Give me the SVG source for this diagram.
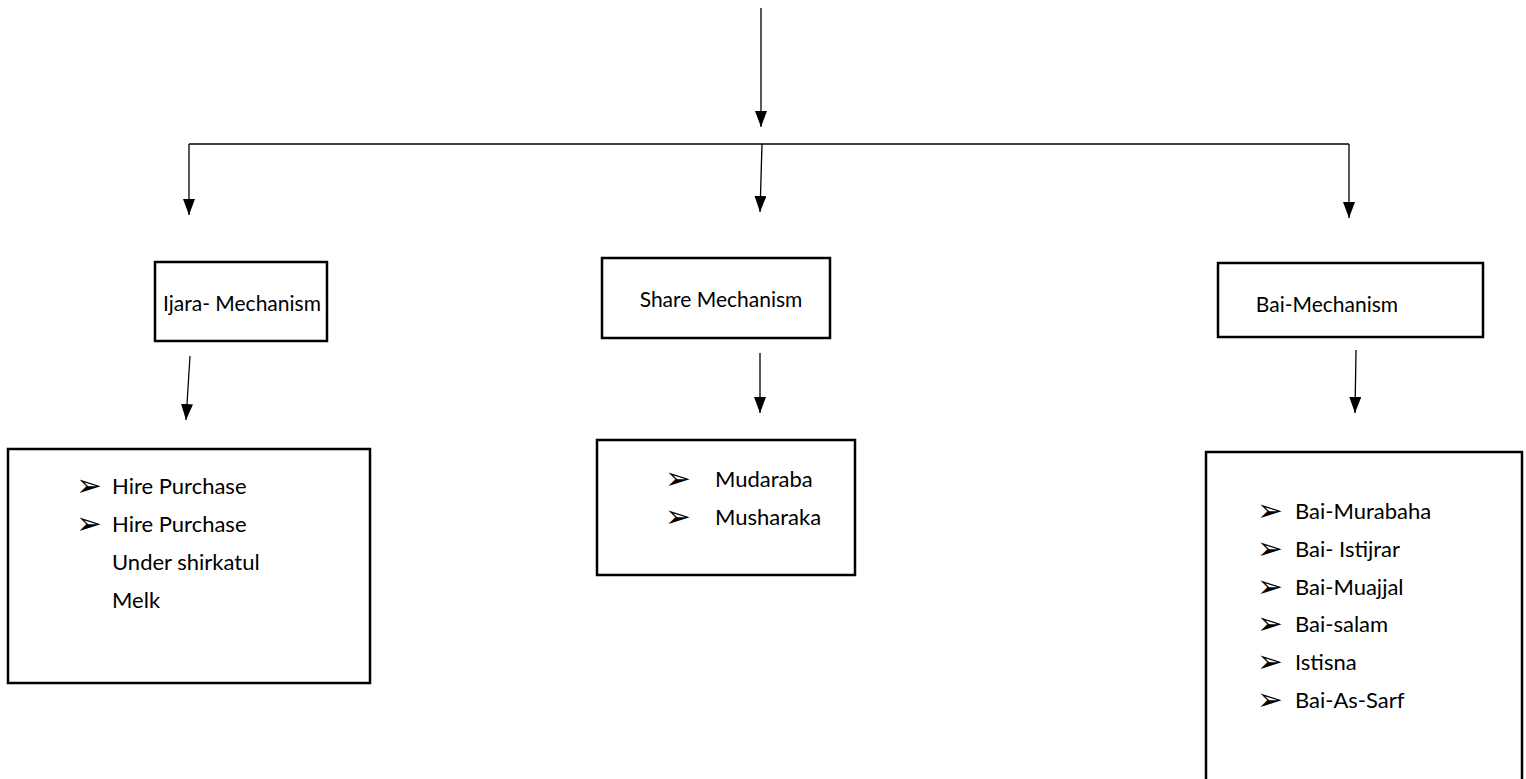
<svg xmlns="http://www.w3.org/2000/svg" width="1526" height="779" viewBox="0 0 1526 779">
<defs>
<marker id="ah" viewBox="0 0 16 12" refX="16" refY="6" markerWidth="16" markerHeight="12" markerUnits="userSpaceOnUse" orient="auto">
<path d="M0,0 L16,6 L0,12 z" fill="#000"/>
</marker>
<style>
.box{fill:#fff;stroke:#000;stroke-width:2.5}
.t{font-family:Lato,"Liberation Sans",sans-serif;font-size:21px;fill:#000}
.h{text-anchor:middle}
.l{font-size:22px}
.b{font-family:"DejaVu Sans",sans-serif;font-size:31px;fill:#000}
.c{fill:none;stroke:#000;stroke-width:1.3}
</style>
</defs>
<rect width="1526" height="779" fill="#fff"/>
<g id="connectors">
<path class="c" d="M761,8 L761,127" marker-end="url(#ah)"/>
<path class="c" d="M189,144 L1349,144"/>
<path class="c" d="M189,144 L189,215" marker-end="url(#ah)"/>
<path class="c" d="M762,144 L760,212" marker-end="url(#ah)"/>
<path class="c" d="M1349,144 L1349,218" marker-end="url(#ah)"/>
<path class="c" d="M190,356 L186,420" marker-end="url(#ah)"/>
<path class="c" d="M760,353 L760,413" marker-end="url(#ah)"/>
<path class="c" d="M1356,350 L1355,413" marker-end="url(#ah)"/>
</g>
<g id="ijara">
<rect class="box" x="155" y="262" width="172" height="79"/>
<text class="t h" x="242" y="311">Ijara- Mechanism</text>
</g>
<g id="share">
<rect class="box" x="602" y="258" width="228" height="80"/>
<text class="t h" x="721" y="307">Share Mechanism</text>
</g>
<g id="bai">
<rect class="box" x="1218" y="263" width="265" height="74"/>
<text class="t h" x="1327" y="312">Bai-Mechanism</text>
</g>
<g id="ijara-list">
<rect class="box" x="8" y="449" width="362" height="234"/>
<text class="b" x="76" y="496">➢</text>
<text class="t l" x="112" y="494">Hire Purchase</text>
<text class="b" x="76" y="534">➢</text>
<text class="t l" x="112" y="532">Hire Purchase</text>
<text class="t l" x="112" y="570">Under shirkatul</text>
<text class="t l" x="112" y="608">Melk</text>
</g>
<g id="share-list">
<rect class="box" x="597" y="440" width="258" height="135"/>
<text class="b" x="665" y="489">➢</text>
<text class="t l" x="715" y="487">Mudaraba</text>
<text class="b" x="665" y="527">➢</text>
<text class="t l" x="715" y="525">Musharaka</text>
</g>
<g id="bai-list">
<rect class="box" x="1206" y="452" width="316" height="360"/>
<text class="b" x="1257" y="521">➢</text>
<text class="t l" x="1295" y="519">Bai-Murabaha</text>
<text class="b" x="1257" y="559">➢</text>
<text class="t l" x="1295" y="557">Bai- Istijrar</text>
<text class="b" x="1257" y="597">➢</text>
<text class="t l" x="1295" y="595">Bai-Muajjal</text>
<text class="b" x="1257" y="634">➢</text>
<text class="t l" x="1295" y="632">Bai-salam</text>
<text class="b" x="1257" y="672">➢</text>
<text class="t l" x="1295" y="670">Istisna</text>
<text class="b" x="1257" y="710">➢</text>
<text class="t l" x="1295" y="708">Bai-As-Sarf</text>
</g>
</svg>
